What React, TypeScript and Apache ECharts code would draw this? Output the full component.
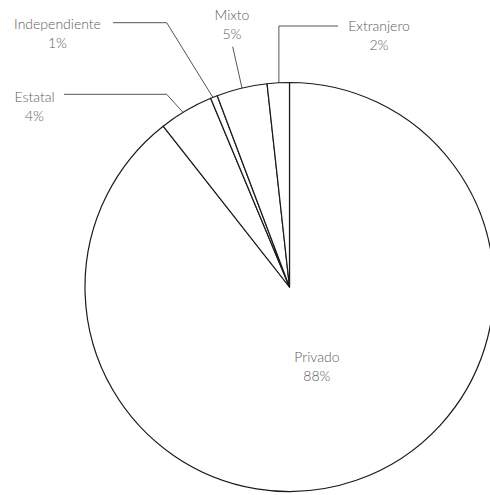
import React, { useEffect, useRef } from "react";
import * as echarts from "echarts";

const categories = ["Privado", "Estatal", "Independiente", "Mixto", "Extranjero"];
const shares = [89.4, 4.3, 0.55, 4.0, 1.75];
const pctLabels = ["88%", "4%", "1%", "5%", "2%"];

// Layout / style constants
const CX = 289.5;
const CY = 287;
const R = 204.5;
const LABEL_COLOR = "#5c5c5c";
const LINE_COLOR = "#555";

// label block centers (outside labels) and leader-line bends
const labelCenter: Record<number, [number, number]> = {
  1: [34.5, 106],
  2: [57.5, 33],
  3: [232, 23.5],
  4: [379, 35],
};
const lineStartFrac: Record<number, number> = { 1: 0.92, 2: 0.97, 3: 0.92, 4: 0.945 };
const lineBend: Record<number, (s: [number, number]) => number[][]> = {
  1: () => [[166.7, 94.3], [64, 94.3]],
  2: () => [[166.7, 22.7], [113, 22.7]],
  3: () => [[232.7, 46.7], [232.7, 46.7]],
  4: (s) => [[s[0], 26], [338, 26]],
};

function midAngle(i: number): number {
  const total = shares.reduce((a, b) => a + b, 0);
  let before = 0;
  for (let k = 0; k < i; k++) before += shares[k];
  return ((before + shares[i] / 2) / total) * 2 * Math.PI; // clockwise from top
}
function pointAt(i: number, frac: number): [number, number] {
  const a = midAngle(i);
  return [CX + Math.sin(a) * R * frac, CY - Math.cos(a) * R * frac];
}

export default function App() {
  const ref = useRef<HTMLDivElement>(null);
  useEffect(() => {
    if (!ref.current) return;
    const chart = echarts.init(ref.current, undefined, { renderer: "svg" });
    chart.setOption({
      animation: false,
      backgroundColor: "#fff",
      series: [
        {
          type: "pie",
          center: [CX, CY],
          radius: R,
          startAngle: 90,
          clockwise: true,
          avoidLabelOverlap: false,
          silent: true,
          itemStyle: { color: "#fff", borderColor: "#1a1a1a", borderWidth: 1.2 },
          label: {
            show: true,
            position: "outside",
            color: LABEL_COLOR,
            fontFamily: "Lato",
            fontWeight: 300,
            fontSize: 14,
            lineHeight: 19,
            align: "center",
            formatter: (p: any) => `${p.name}\n${pctLabels[p.dataIndex]}`,
          },
          labelLine: {
            show: true,
            length: 10,
            length2: 10,
            lineStyle: { color: LINE_COLOR, width: 1 },
          },
          labelLayout: (params: any) => {
            const i = params.dataIndex;
            if (i === 0) {
              const p = pointAt(0, 0.41);
              return { x: p[0], y: p[1], align: "center", verticalAlign: "middle" };
            }
            const c = labelCenter[i];
            const s = pointAt(i, lineStartFrac[i]);
            return {
              x: c[0],
              y: c[1],
              align: "center",
              verticalAlign: "middle",
              labelLinePoints: [s, ...lineBend[i](s)],
            };
          },
          data: categories.map((name, i) =>
            i === 0
              ? { name, value: shares[i], label: { position: "inside" }, labelLine: { show: false } }
              : { name, value: shares[i] }
          ),
        },
      ],
    });
    return () => chart.dispose();
  }, []);
  return (
    <div
      ref={ref}
      style={{ position: "fixed", left: 0, top: 0, width: 490, height: 495 }}
    />
  );
}
